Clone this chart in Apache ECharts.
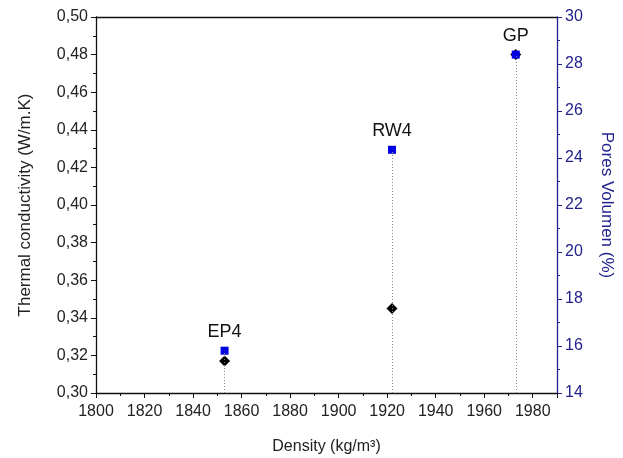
<!DOCTYPE html>
<html>
<head>
<meta charset="utf-8">
<script src="https://cdn.jsdelivr.net/npm/echarts@6/dist/echarts.min.js"></script>
<style>
html, body { margin: 0; padding: 0; background: #fff; }
#chart { width: 623px; height: 458px; }
</style>
</head>
<body>
<div id="chart"></div>
<script>
// samples
var names = ['EP4', 'RW4', 'GP']
var density = [1853, 1922, 1973]
var conductivity = [0.317, 0.345, 0.48]
var poresVolume = [15.8, 24.35, 28.4]

var blue = '#0000e0'
var navy = '#22228c'
var font = 'Liberation Sans, Arial, sans-serif'

function comma(v) {
    return v.toFixed(2).replace('.', ',')
}

var kData = [], pData = [], drops = []
for (var i = 0; i < names.length; i++) {
    kData.push([density[i], conductivity[i]])
    pData.push({ name: names[i], value: [density[i], poresVolume[i]] })
    drops.push([{ coord: [density[i], 14] }, { coord: [density[i], poresVolume[i]] }])
}

var chart = echarts.init(document.getElementById('chart'))
var option = {
    animation: false,
    textStyle: { fontFamily: font },
    grid: { left: 96, right: 66, top: 17, bottom: 65, show: false, outerBoundsMode: 'none', containLabel: false },
    xAxis: [{
        type: 'value',
        min: 1800, max: 1990, interval: 20,
        name: 'Density (kg/m³)',
        nameLocation: 'middle', nameGap: 46,
        nameTextStyle: { fontSize: 16, color: '#222', fontFamily: font },
        axisLine: { lineStyle: { color: '#111', width: 1.3 } },
        axisTick: { length: 5, lineStyle: { color: '#111' } },
        minorTick: { show: true, splitNumber: 2, length: 3, lineStyle: { color: '#111' } },
        axisLabel: { fontSize: 16, color: '#222', margin: 11, showMaxLabel: false,
            formatter: function (v) { return String(v) } },
        splitLine: { show: false }
    }, {
        type: 'value', position: 'top',
        min: 1800, max: 1990,
        axisLine: { show: true, onZero: false, lineStyle: { color: '#111', width: 1.3 } },
        axisTick: { show: false }, axisLabel: { show: false }, splitLine: { show: false }
    }],
    yAxis: [{
        type: 'value',
        min: 0.30, max: 0.50, interval: 0.02,
        name: 'Thermal conductivity (W/m.K)',
        nameLocation: 'middle', nameGap: 62, nameRotate: 90,
        nameTextStyle: { fontSize: 17, color: '#222', fontFamily: font },
        axisLine: { show: true, lineStyle: { color: '#111', width: 1.3 } },
        axisTick: { show: true, length: 5, lineStyle: { color: '#111' } },
        minorTick: { show: true, splitNumber: 2, length: 3, lineStyle: { color: '#111' } },
        axisLabel: { fontSize: 16, color: '#222', margin: 8, formatter: comma },
        splitLine: { show: false }
    }, {
        type: 'value', position: 'right',
        min: 14, max: 30, interval: 2,
        name: 'Pores Volumen (%)',
        nameLocation: 'middle', nameGap: 41, nameRotate: -90,
        nameTextStyle: { fontSize: 17, color: navy, fontFamily: font },
        axisLine: { show: true, lineStyle: { color: navy, width: 1.3 } },
        axisTick: { show: true, length: 5, lineStyle: { color: navy } },
        minorTick: { show: true, splitNumber: 2, length: 3, lineStyle: { color: navy } },
        axisLabel: { fontSize: 16, color: navy, margin: 8 },
        splitLine: { show: false }
    }],
    series: [{
        name: 'drops',
        type: 'scatter',
        yAxisIndex: 1,
        data: [],
        symbolSize: 0,
        markLine: {
            silent: true, symbol: 'none', label: { show: false },
            lineStyle: { type: [1, 2], color: '#888', width: 1 },
            data: drops
        }
    }, {
        name: 'Thermal conductivity',
        type: 'scatter',
        yAxisIndex: 0,
        symbol: 'diamond',
        symbolSize: 11,
        itemStyle: { color: '#000', opacity: 1 },
        data: kData,
        z: 3
    }, {
        name: 'Pores Volumen',
        type: 'scatter',
        yAxisIndex: 1,
        symbol: 'rect',
        symbolSize: 8,
        itemStyle: { color: blue, opacity: 1 },
        label: {
            show: true, position: 'top', distance: 6,
            formatter: '{b}', fontSize: 18, color: '#111', fontFamily: font
        },
        data: pData,
        z: 4
    }]
}
chart.setOption(option)
</script>
</body>
</html>
